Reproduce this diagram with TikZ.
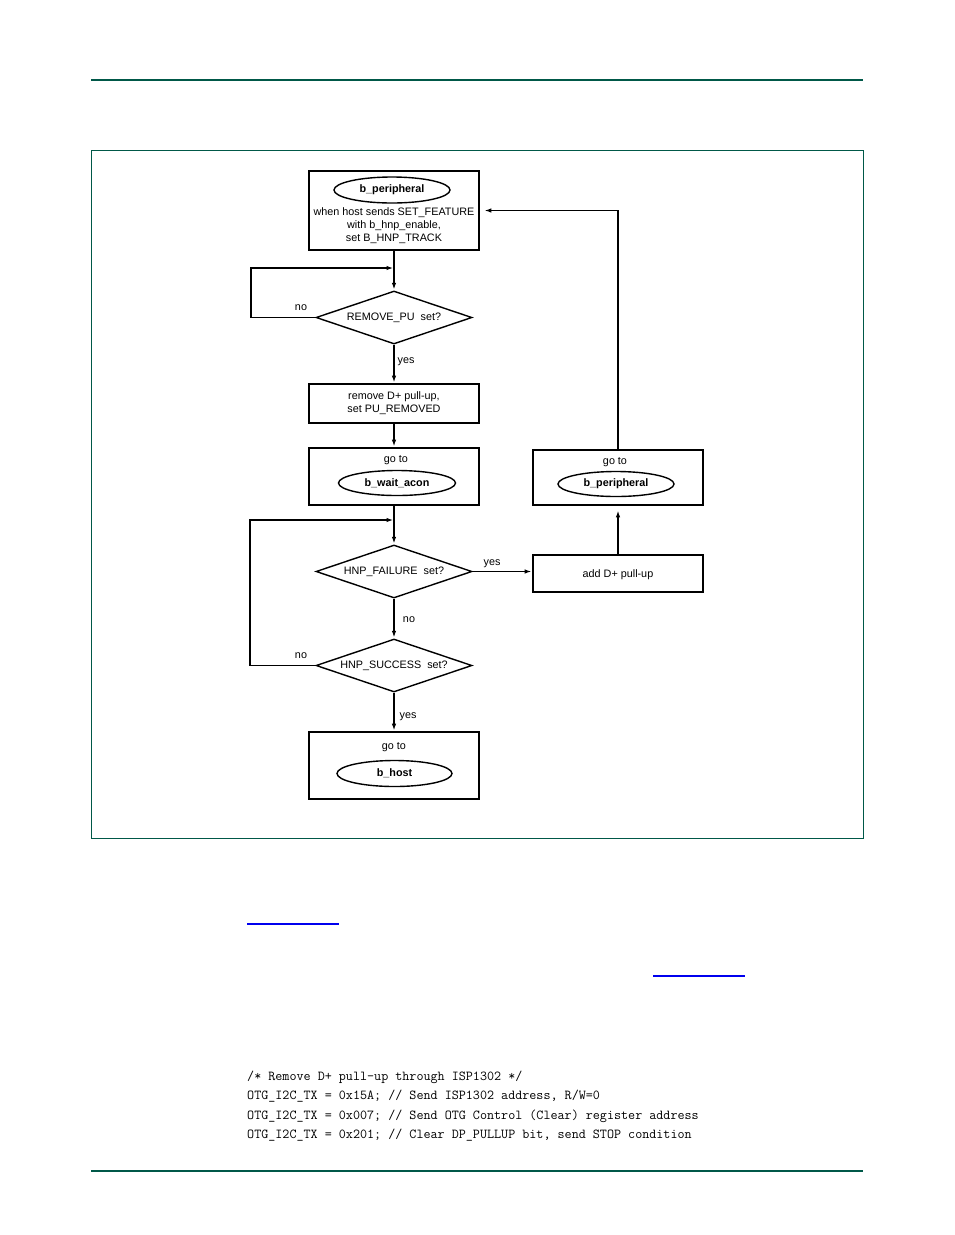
\documentclass[tikz,border=0pt]{standalone}
\usepackage{fontspec}
\setmainfont{Liberation Sans}
\usetikzlibrary{shapes.geometric,arrows.meta}
\definecolor{nxpgreen}{RGB}{0,88,72}
\definecolor{linkblue}{RGB}{0,0,238}
\begin{document}
\begin{tikzpicture}[x=1pt,y=-1pt,font=\fontsize{10.8}{13}\selectfont]
\tikzstyle{box}=[draw,line width=1.6pt,minimum width=170pt,inner sep=0pt]
\tikzstyle{state}=[draw,ellipse,line width=1.4pt,inner sep=0pt,font=\fontsize{10.8}{13}\selectfont\bfseries]
\tikzstyle{test}=[draw,diamond,aspect=3,line width=1.4pt,inner sep=0pt,minimum width=156pt,minimum height=53pt]
\tikzstyle{arr}=[line width=1.1pt,-{Latex[length=6.5pt,width=4.5pt]},shorten >=1pt]
\tikzstyle{lbl}=[inner sep=0pt]
\useasboundingbox (0,0) rectangle (954,1235);
% page rules and frame
\draw[nxpgreen,line width=1.5pt] (91,80) -- (863,80);
\draw[nxpgreen,line width=1.5pt] (91,1171) -- (863,1171);
\draw[nxpgreen,line width=0.9pt] (91,150) rectangle (863,838);
% states and tests
\node[box,minimum height=79pt] (bperi) at (394,210.5) {};
\node[state,minimum width=116pt,minimum height=26pt] (bperiname) at (392,190) {b\_peripheral};
\node[lbl,align=center] (bperitxt) at (394,226) {when host sends SET\_FEATURE\\with b\_hnp\_enable,\\set B\_HNP\_TRACK};
\node[test] (rempu) at (394,317.5) {REMOVE\_PU~ set?};
\node[box,minimum height=39pt,align=center] (rmpull) at (394,403.5) {remove D+ pull-up,\\set PU\_REMOVED};
\node[box,minimum height=57pt] (gowait) at (394,476.5) {};
\node[lbl] (gowaittxt) at (396,460) {go to};
\node[state,minimum width=117pt,minimum height=25pt] (waitacon) at (397,483) {b\_wait\_acon};
\node[test] (hnpfail) at (394,571.5) {HNP\_FAILURE~ set?};
\node[test] (hnpsucc) at (394,665.5) {HNP\_SUCCESS~ set?};
\node[box,minimum height=67pt] (gohost) at (394,765.5) {};
\node[lbl] (gohosttxt) at (394,747) {go to};
\node[state,minimum width=115pt,minimum height=26pt] (bhost) at (394.5,773.5) {b\_host};
\node[box,minimum height=37pt,text depth=0pt] (addpull) at (618,573.5) {add D+ pull-up};
\node[box,minimum height=55pt] (goperi) at (618,477.5) {};
\node[lbl] (goperitxt) at (615,462) {go to};
\node[state,minimum width=116pt,minimum height=25pt] (bperi2) at (616,484) {b\_peripheral};
% connectors
\coordinate (loop1) at (251,268);
\coordinate (join1) at (394,268);
\coordinate (loop2) at (250,520);
\coordinate (join2) at (394,520);
\draw[arr] (bperi) -- (rempu);
\draw[arr] (rempu.west) -| (loop1) -- (join1);
\draw[arr] (rempu) -- (rmpull);
\draw[arr] (rmpull) -- (gowait);
\draw[arr] (gowait) -- (hnpfail);
\draw[arr] (hnpfail) -- (hnpsucc);
\draw[arr] (hnpsucc.west) -| (loop2) -- (join2);
\draw[arr] (hnpsucc) -- (gohost);
\draw[arr] (hnpfail.east) -- (hnpfail.east -| addpull.west);
\draw[arr,shorten >=5pt] (addpull) -- (goperi);
\draw[arr,shorten >=5pt] (goperi.north) |- (bperi.east);
% labels
\node[lbl] (no1) at (301,308) {no};
\node[lbl] (yes1) at (406,362) {yes};
\node[lbl] (yes2) at (492,564) {yes};
\node[lbl] (no2) at (409,620) {no};
\node[lbl] (no3) at (301,656) {no};
\node[lbl] (yes3) at (408,717) {yes};
% links and code
\draw[linkblue,line width=1.2pt] (247,924) -- (339,924);
\draw[linkblue,line width=1.2pt] (653,976) -- (745,976);
\node[lbl,anchor=west,align=left,font=\ttfamily\fontsize{13.7}{19.5}\selectfont] (code) at (247,1106) {/* Remove D+ pull-up through ISP1302 */\\OTG\_I2C\_TX = 0x15A; // Send ISP1302 address, R/W=0\\OTG\_I2C\_TX = 0x007; // Send OTG Control (Clear) register address\\OTG\_I2C\_TX = 0x201; // Clear DP\_PULLUP bit, send STOP condition};
\end{tikzpicture}
\end{document}
